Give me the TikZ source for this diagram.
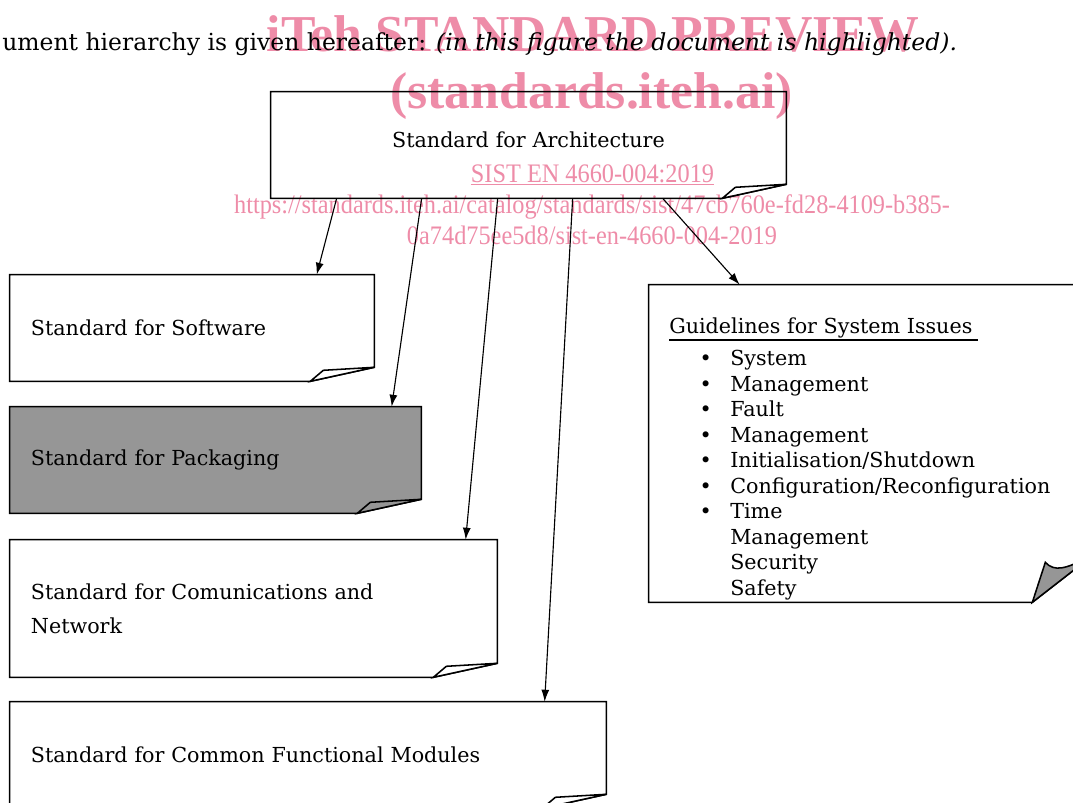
\documentclass[tikz,border=0pt]{standalone}
\usepackage{fontspec}
\setmainfont{DejaVu Serif}
\newfontfamily\wmfont{Liberation Serif}
\usepackage{tikz}
\usetikzlibrary{arrows.meta}
\pgfdeclarelayer{background}
\pgfsetlayers{background,main}

\definecolor{wmpink}{RGB}{238,140,168}
\definecolor{boxgray}{RGB}{150,150,150}
\newcommand{\docfont}{\fontsize{14.7}{18.1}\selectfont}
\newcommand{\issue}[1]{\makebox[43.4pt][l]{\hspace{21.5pt}\textbullet}#1}
\newcommand{\noissue}[1]{\makebox[43.4pt][l]{}#1}
% outline with a folded corner, drawn behind the node
\newcommand{\docframe}[2]{%
  \filldraw[frame, fill=#2] (#1.north west) -- (#1.north east) -- ([shift={(0,-14)}]#1.south east)
    -- ([shift={(-64,0)}]#1.south east) -- (#1.south west) -- cycle;
  \filldraw[frame, fill=#2] ([shift={(-64,0)}]#1.south east) -- ([shift={(-51,-11)}]#1.south east)
    -- ([shift={(0,-14)}]#1.south east) -- cycle;}

\begin{document}
\begin{tikzpicture}[x=0.025cm, y=-0.025cm]
		\tikzset{frame/.style = {draw, line width=1.1pt}}
		\tikzset{doc/.style = {shape=rectangle, inner xsep=0.525cm, inner ysep=0pt, minimum height=2.65cm, align=left, font=\docfont}}
		\tikzset{edge/.style = {-{Latex[length=8.5pt,width=5.7pt]}, line width=0.8pt}}
		\tikzset{wm/.style = {text=wmpink, inner sep=0pt, anchor=base}}
		\useasboundingbox (0,0) rectangle (1073,803);
		\clip (0,0) rectangle (1073,803);
		% intro line
		\node[anchor=base west, inner sep=0pt, font=\fontsize{16.7}{20}\selectfont] (intro) at (2,50) {ument hierarchy is given hereafter: \textit{(in this figure the document is highlighted).}};
		% documents
		\node[doc, text width=11.825cm, align=center] (arch) at (528.5,145) {\raisebox{8pt}{Standard for Architecture}};
		\node[doc, text width=8.05cm] (soft) at (192,328) {Standard for Software};
		\node[doc, text width=9.225cm] (pack) at (215.5,460) {Standard for Packaging};
		\node[doc, text width=11.125cm, minimum height=3.425cm] (comm) at (253.5,608.5) {Standard for Comunications and\\[6pt] Network};
		\node[doc, text width=13.85cm] (common) at (308,755) {Standard for Common Functional Modules};
		\node[shape=rectangle, minimum width=10.925cm, minimum height=7.925cm] (guide) at (867.5,443.5) {};
		\node[anchor=base west, inner sep=0pt, font=\docfont] (issuehead) at (669,333) {Guidelines for System Issues};
		\node[anchor=base west, inner sep=0pt, align=left, font=\docfont] (issuelist) at (669,595) {\issue{System}\\ \issue{Management}\\ \issue{Fault}\\ \issue{Management}\\ \issue{Initialisation/Shutdown}\\ \issue{Configuration/Reconfiguration}\\ \issue{Time}\\ \noissue{Management}\\ \noissue{Security}\\ \noissue{Safety}};
		\draw[line width=1.4pt] ([shift={(0,7)}]issuehead.base west) -- ([shift={(309,7)}]issuehead.base west);
		% frames
		\begin{pgfonlayer}{background}
		\docframe{arch}{white}
		\docframe{soft}{white}
		\docframe{pack}{boxgray}
		\docframe{comm}{white}
		\docframe{common}{white}
		\filldraw[frame, fill=white] (guide.north west) -- (guide.north east) -- ([shift={(0,-42)}]guide.south east)
			-- ([shift={(-54,0)}]guide.south east) -- (guide.south west) -- cycle;
		\filldraw[frame, fill=boxgray] ([shift={(-54,0)}]guide.south east) -- ([shift={(-41,-40)}]guide.south east)
			.. controls ([shift={(-32,-30)}]guide.south east) and ([shift={(-20,-34)}]guide.south east) .. ([shift={(0,-44)}]guide.south east)
			-- ([shift={(0,-42)}]guide.south east) -- cycle;
		\end{pgfonlayer}
		% edges
		\draw[edge] ([shift={(66,0)}]arch.south west) -- ([shift={(307,0)}]soft.north west);
		\draw[edge] ([shift={(151,0)}]arch.south west) -- ([shift={(382,0)}]pack.north west);
		\draw[edge] ([shift={(227,0)}]arch.south west) -- ([shift={(456,0)}]comm.north west);
		\draw[edge] ([shift={(302,0)}]arch.south west) -- ([shift={(535,0)}]common.north west);
		\draw[edge] ([shift={(392,0)}]arch.south west) -- ([shift={(91,0)}]guide.north west);
		% watermark
		\begin{scope}[blend mode=multiply]
		\node[wm, font=\wmfont\bfseries\fontsize{36.8}{40}\selectfont] (wmtitle) at (593,51) {iTeh STANDARD PREVIEW};
		\node[wm, font=\wmfont\bfseries\fontsize{36.8}{40}\selectfont] (wmsite) at (591.5,108) {(standards.iteh.ai)};
		\node[wm, xscale=0.91, font=\wmfont\fontsize{19}{22}\selectfont] (wmref) at (592.5,182) {\underline{SIST EN 4660-004:2019}};
		\node[wm, xscale=0.91, font=\wmfont\fontsize{19}{22}\selectfont] (wmurl) at (592,213) {https://standards.iteh.ai/catalog/standards/sist/47cb760e-fd28-4109-b385-};
		\node[wm, xscale=0.91, font=\wmfont\fontsize{19}{22}\selectfont] (wmurltail) at (592,244) {0a74d75ee5d8/sist-en-4660-004-2019};
		\end{scope}
\end{tikzpicture}
\end{document}
